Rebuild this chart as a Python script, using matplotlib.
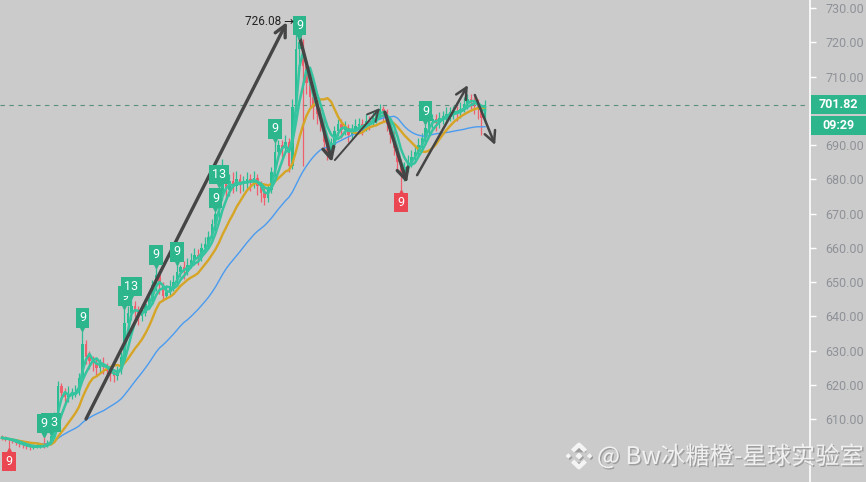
import matplotlib
matplotlib.use('Agg')
import matplotlib.pyplot as plt
import matplotlib.patheffects as pe
from matplotlib.patches import Rectangle, Polygon
from matplotlib.transforms import offset_copy, blended_transform_factory
import numpy as np
import pandas as pd

# candle data
first_open = 604.8
closes = [
    604.5, 604.2, 603.8, 603.5, 603.0, 602.6, 602.3, 602.0, 601.8, 601.9,
    602.0, 602.3, 602.1, 603.0, 605.0, 611.0, 619.5, 617.5, 616.5, 617.0,
    617.5, 618.0, 622.0, 632.0, 628.0, 627.0, 626.5, 625.0, 626.0, 625.5,
    624.0, 623.0, 622.5, 624.0, 628.0, 638.0, 641.0, 643.0, 641.5, 640.0,
    641.0, 643.5, 645.0, 649.0, 652.0, 649.0, 646.0, 647.0, 648.5, 650.0,
    653.0, 654.5, 653.0, 655.0, 656.5, 658.0, 657.0, 660.0, 661.0, 663.0,
    667.0, 670.0, 676.0, 679.0, 677.0, 679.5, 678.0, 680.0, 678.5, 679.0,
    680.0, 679.0, 680.5, 678.0, 676.0, 674.5, 677.0, 682.0, 688.0, 690.0,
    689.0, 691.0, 684.0, 701.0, 718.0, 720.0, 713.0, 708.0, 704.0, 701.0,
    699.0, 697.5, 691.0, 688.0, 690.0, 694.0, 696.0, 694.5, 695.0, 693.0,
    694.0, 695.5, 696.0, 695.0, 697.0, 696.5, 698.0, 699.0, 700.5, 699.5,
    696.0, 693.0, 689.0, 685.0, 681.0, 683.5, 685.0, 686.5, 688.0, 690.0,
    692.0, 695.0, 697.0, 697.5, 696.5, 698.0, 698.5, 699.0, 699.5, 700.0,
    699.5, 700.5, 702.0, 703.5, 703.0, 702.0, 700.5, 698.0, 701.82,
]
highs = [
    605.3, 605.0, 604.6, 604.3, 604.0, 603.5, 603.2, 602.9, 602.6, 602.7,
    603.2, 603.0, 604.8, 603.8, 605.2, 612.0, 621.0, 620.5, 619.0, 619.5,
    619.0, 620.0, 623.5, 635.7, 633.0, 630.0, 628.5, 627.5, 627.5, 628.0,
    626.5, 625.0, 624.5, 625.5, 629.5, 642.1, 643.0, 645.0, 644.5, 643.0,
    643.0, 645.0, 647.0, 650.5, 654.1, 653.0, 650.0, 649.0, 650.5, 652.0,
    655.0, 655.0, 656.0, 657.0, 658.5, 660.0, 659.5, 661.5, 663.0, 665.0,
    668.5, 670.7, 677.7, 686.0, 681.0, 681.5, 682.0, 682.5, 681.5, 681.0,
    682.0, 681.5, 682.5, 681.5, 679.5, 677.5, 678.5, 683.5, 690.9, 691.5,
    691.5, 693.0, 692.0, 703.5, 726.08, 721.0, 721.0, 714.5, 709.5, 706.0,
    703.0, 701.0, 698.5, 692.5, 692.0, 695.5, 697.5, 697.5, 697.0, 696.0,
    696.0, 697.5, 698.0, 697.5, 699.0, 698.5, 700.0, 700.5, 702.0, 701.5,
    700.5, 697.0, 694.0, 690.0, 686.0, 685.0, 687.0, 688.5, 690.0, 692.0,
    693.5, 696.1, 698.5, 699.0, 699.0, 699.5, 700.0, 701.0, 701.0, 701.5,
    701.5, 702.5, 704.0, 705.0, 705.0, 704.0, 703.5, 701.5, 703.0,
]
lows = [
    603.9, 603.6, 601.5, 602.9, 602.3, 601.9, 601.6, 601.3, 601.0, 601.2,
    601.4, 601.6, 601.5, 601.7, 602.6, 604.5, 610.0, 615.5, 614.5, 615.0,
    615.8, 616.5, 617.0, 621.0, 626.0, 624.5, 624.0, 622.5, 623.5, 623.0,
    622.0, 621.0, 620.8, 621.5, 623.0, 627.0, 636.0, 639.0, 638.5, 637.5,
    638.5, 640.0, 642.0, 644.0, 647.5, 646.5, 644.5, 645.0, 646.0, 647.5,
    649.0, 651.5, 651.0, 652.0, 654.0, 655.0, 655.0, 656.0, 658.5, 660.0,
    662.0, 665.0, 669.0, 674.0, 674.5, 675.0, 676.0, 676.5, 676.0, 676.5,
    677.0, 676.5, 677.5, 675.5, 673.5, 672.5, 673.5, 676.0, 681.0, 686.0,
    686.5, 687.5, 682.0, 683.0, 700.0, 714.0, 684.0, 705.0, 700.5, 697.5,
    696.0, 694.0, 688.5, 685.5, 686.5, 689.0, 692.5, 692.0, 693.0, 691.0,
    691.5, 692.5, 694.0, 693.0, 694.0, 694.5, 695.5, 696.5, 697.5, 697.0,
    694.0, 690.5, 687.0, 682.5, 677.0, 679.5, 682.0, 683.5, 685.0, 686.5,
    688.5, 690.5, 693.0, 695.0, 694.0, 695.0, 696.0, 696.5, 697.0, 697.5,
    697.0, 698.0, 699.5, 700.5, 700.5, 699.0, 697.5, 693.0, 696.5,
]

# TD sequential counts: (candle index, text)
td_up = [(14, '13'), (12, '9'), (23, '9'), (35, '9'), (37, '13'), (44, '9'),
         (50, '9'), (61, '9'), (62, '13'), (78, '9'), (85, '9'), (121, '9')]
td_down = [(2, '9'), (114, '9')]

# hand drawn arrows: (start idx, start price, end idx, end price, width)
arrows = [
    (24.0, 610.0, 81.4, 725.9, 2.4),
    (84.3, 724.5, 94.3, 685.0, 2.4),
    (95.1, 685.6, 108.0, 700.8, 1.4),
    (109.4, 699.6, 115.7, 678.9, 2.4),
    (118.6, 681.2, 133.1, 707.5, 1.8),
    (135.1, 704.6, 140.9, 690.0, 1.8),
]

last_price = 701.82
countdown = '09:29'
peak_idx = 84
yticks = np.arange(610, 731, 10)

bg = '#cbcbcb'
up_c = '#2bbd94'
dn_c = '#ef5f6c'
box_green = '#2db58c'
box_red = '#ea4753'

fig = plt.figure(figsize=(8.66, 4.82), dpi=100)
fig.patch.set_facecolor(bg)
ax = fig.add_axes([0, 0, 810 / 866, 1])
ax.set_facecolor(bg)

opens = [first_open] + closes[:-1]
x = np.arange(len(closes))
o = np.array(opens)
c = np.array(closes)
h = np.array(highs)
l = np.array(lows)
cols = np.where(c >= o, up_c, dn_c)

ax.vlines(x, l, h, colors=cols, lw=0.9, zorder=2)
ax.bar(x, np.maximum(np.abs(c - o), 0.2), bottom=np.minimum(o, c), width=0.6,
       color=cols, zorder=2)

s = pd.Series(closes)
ax.plot(x, s.rolling(30, min_periods=1).mean(), color='#4a9bf0', lw=1.0, zorder=3)
ax.plot(x, s.rolling(11, min_periods=1).mean(), color='#d6a526', lw=1.7, zorder=3)
ax.plot(x, s.rolling(5, min_periods=1).mean(), color='#35c49f', lw=1.8, zorder=3)
ax.plot(x, s.rolling(3, min_periods=1).mean(), color='#35c49f', lw=1.8, zorder=3)

ax.axhline(last_price, color='#5a8f80', lw=0.8, ls=(0, (4, 4)), zorder=1)

for x0, y0, x1, y1, w in arrows:
    ax.annotate('', xy=(x1, y1), xytext=(x0, y0),
                arrowprops=dict(arrowstyle='->,head_length=0.8,head_width=0.4',
                                color='#454545', lw=w, shrinkA=0, shrinkB=0),
                zorder=5)

# TD labels
for idx, txt in td_up:
    tr = offset_copy(ax.transData, fig=fig, x=0, y=13, units='dots')
    tr2 = offset_copy(ax.transData, fig=fig, x=0, y=3, units='dots')
    ax.plot(idx, highs[idx], marker='v', ms=4, color=box_green, transform=tr2, zorder=6)
    ax.text(idx, highs[idx], txt, transform=tr, ha='center', va='center',
            color='white', fontsize=9, family='Roboto', zorder=7,
            bbox=dict(boxstyle='square,pad=0.25', fc=box_green, ec='none'))
for idx, txt in td_down:
    tr = offset_copy(ax.transData, fig=fig, x=0, y=-13, units='dots')
    tr2 = offset_copy(ax.transData, fig=fig, x=0, y=-3, units='dots')
    ax.plot(idx, lows[idx], marker='^', ms=4, color=box_red, transform=tr2, zorder=6)
    ax.text(idx, lows[idx], txt, transform=tr, ha='center', va='center',
            color='white', fontsize=9, family='Roboto', zorder=7,
            bbox=dict(boxstyle='square,pad=0.25', fc=box_red, ec='none'))

tr = offset_copy(ax.transData, fig=fig, x=-2, y=0, units='dots')
ax.text(peak_idx, highs[peak_idx], '%.2f →' % highs[peak_idx], transform=tr,
        ha='right', va='center', fontsize=8.5, color='#222222',
        family=['Roboto', 'DejaVu Sans'], zorder=7)

ax.set_xlim(-0.57, 230.86)
ax.set_ylim(591.61, 732.34)
ax.set_xticks([])
ax.yaxis.tick_right()
ax.set_yticks(yticks)
# the 700 label sits under the last price box
ax.set_yticklabels(['' if v == 700 else '%.2f' % v for v in yticks])
ax.tick_params(axis='y', length=4, width=1, color='white', pad=7,
               labelsize=9, labelcolor='#8e9298')
for lab in ax.get_yticklabels():
    lab.set_family('Roboto')
for side in ['top', 'left', 'bottom']:
    ax.spines[side].set_visible(False)
ax.spines['right'].set_color('white')
ax.spines['right'].set_linewidth(1.2)

# price boxes on the axis
bt = blended_transform_factory(fig.transFigure, ax.transData)
ph = 19 / 3.425
ax.add_patch(Rectangle((811 / 866, last_price - ph / 2), 55 / 866, ph,
                       transform=bt, fc=box_green, ec='none', clip_on=False, zorder=8))
ax.text(838 / 866, last_price, '%.2f' % last_price, transform=bt, ha='center',
        va='center', color='white', fontsize=9, fontweight='bold', family='Roboto',
        zorder=9, clip_on=False)
y2 = last_price - 21 / 3.425
ax.add_patch(Rectangle((811 / 866, y2 - ph / 2), 55 / 866, ph,
                       transform=bt, fc=box_green, ec='none', clip_on=False, zorder=8))
ax.text(838 / 866, y2, countdown, transform=bt, ha='center',
        va='center', color='white', fontsize=9, fontweight='bold', family='Roboto',
        zorder=9, clip_on=False)

# watermark
shadow = [pe.withSimplePatchShadow(offset=(1, -1), shadow_rgbFace='#8a8a8a', alpha=0.7)]
fig.text(597 / 866, 1 - 457 / 482, '@ Bw冰糖橙-星球实验室', fontsize=17.5,
         color='#f4f4f4', family=['Noto Sans CJK SC', 'DejaVu Sans'],
         ha='left', va='center', path_effects=shadow, alpha=0.95)

lax = fig.add_axes([565 / 866, 12 / 482, 28 / 866, 28 / 482])
lax.set_xlim(0, 1)
lax.set_ylim(0, 1)
lax.axis('off')
def diamond(cx, cy, r):
    return Polygon([(cx, cy + r), (cx + r, cy), (cx, cy - r), (cx - r, cy)], closed=True,
                   fc='#f4f4f4', ec='none', path_effects=shadow)
lax.add_patch(diamond(0.5, 0.5, 0.13))
lax.add_patch(diamond(0.12, 0.5, 0.1))
lax.add_patch(diamond(0.88, 0.5, 0.1))
lax.plot([0.27, 0.5, 0.73], [0.68, 0.9, 0.68], color='#f4f4f4', lw=3.2,
         solid_capstyle='butt', path_effects=shadow)
lax.plot([0.27, 0.5, 0.73], [0.32, 0.1, 0.32], color='#f4f4f4', lw=3.2,
         solid_capstyle='butt', path_effects=shadow)

fig.savefig('out.png', dpi=100, facecolor=bg)
